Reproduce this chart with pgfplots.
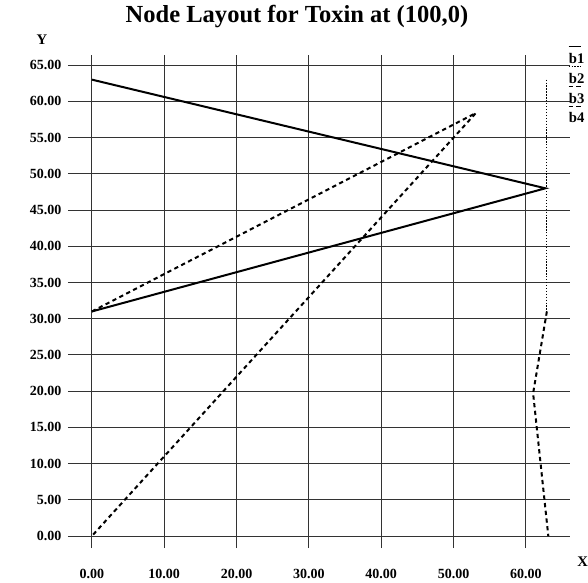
\documentclass[border=0pt]{standalone}
\usepackage{pgfplots}
\pgfplotsset{compat=1.18}
\usepackage{fontspec}
\setmainfont{Liberation Serif}
\begin{document}
\begin{tikzpicture}
\path[use as bounding box] (-51pt,-25.5pt) rectangle (390pt,411pt);
\begin{axis}[
  scale only axis,
  width=376.5pt, height=369.75pt,
  at={(0,0)}, anchor=south west,
  xmin=-3.3, xmax=66.1, ymin=-1.65, ymax=66.4,
  axis line style={draw=none},
  major tick length=0pt,
  xtick={0,10,...,60}, ytick={0,5,...,65},
  grid=major,
  major grid style={black!80, line width=0.7pt},
  ticklabel style={font=\fontsize{10.5}{12}\selectfont\bfseries},
  /pgf/number format/.cd, fixed, fixed zerofill, precision=2, assume math mode=true,
  /pgfplots/.cd,
  xticklabel style={yshift=-12.5pt},
  yticklabel style={xshift=-1.5pt},
  clip=false,
  legend style={draw=none, fill=none, at={(0.988,1.01)}, anchor=north west,
    font=\fontsize{11}{13}\selectfont\bfseries, row sep=1.8pt, inner sep=0pt,
    /tikz/every even column/.append style={column sep=0pt}},
  legend cell align=left,
  legend image code/.code={\path (0,0); \draw[#1,overlay,line width=0.6pt] (0.25em,0.95em) -- (1.2em,0.95em);},
]
\addplot[black, line width=1.5pt] coordinates {(0,63) (62.7,48) (0,31)};
\addlegendentry{b1}
\addplot[black, line width=0.8pt, dash pattern=on 1pt off 1.2pt] coordinates {(62.9,63) (62.9,31)};
\addlegendentry{b2}
\addplot[black, line width=1.5pt, dash pattern=on 3.2pt off 2.6pt] coordinates {(0,31) (53.1,58.4) (0,0)};
\addlegendentry{b3}
\addplot[black, line width=1.5pt, dash pattern=on 3.2pt off 2.6pt] coordinates {(62.9,31) (61.0,19.7) (63.1,0)};
\addlegendentry{b4}
\end{axis}
\node[font=\fontsize{18.4}{22}\selectfont\bfseries] at (171.75pt,398.5pt) {Node Layout for Toxin at (100,0)};
\node[font=\fontsize{11}{13}\selectfont\bfseries] at (-19.5pt,381pt) {Y};
\node[font=\fontsize{11}{13}\selectfont\bfseries] at (386pt,-10pt) {X};
\end{tikzpicture}
\end{document}
